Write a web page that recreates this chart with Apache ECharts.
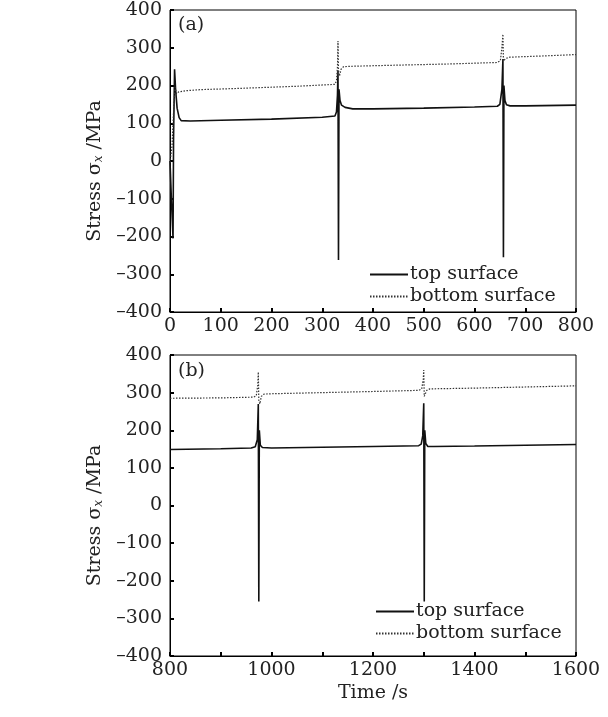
<!DOCTYPE html>
<html>
<head>
<meta charset="utf-8">
<script src="https://cdn.jsdelivr.net/npm/echarts@6/dist/echarts.min.js"></script>
<style>html,body{margin:0;padding:0;background:#fff}#c{width:608px;height:717px}</style>
</head>
<body>
<div id="c"></div>
<script>
// Panel (a): time 0–800 s
const topSurfaceA = [[0,0],[3,-110],[6,-205],[7,60],[9,243],[11,190],[14,140],[18,115],[22,107],[40,106],[100,108],[200,111],[300,116],[325,119],[328,130],[330,175],[331,240],[332,-262],[333,190],[335,160],[338,148],[345,142],[360,138],[400,138],[500,140],[600,143],[645,145],[650,150],[654,190],[656,270],[657,-255],[658,200],[660,160],[663,149],[670,146],[700,146],[800,148]];
const bottomSurfaceA = [[0,-5],[4,40],[7,130],[10,195],[13,178],[17,183],[30,186],[60,189],[150,193],[250,198],[325,203],[328,212],[330,250],[331,318],[332,240],[334,225],[337,243],[342,250],[360,251],[450,254],[550,257],[645,261],[651,266],[654,300],[656,336],[657,265],[659,262],[662,272],[670,275],[750,279],[800,282]];
// Panel (b): time 800–1600 s
const topSurfaceB = [[800,149],[900,151],[960,153],[968,156],[972,175],[974,270],[975,-255],[976,200],[978,160],[982,154],[1000,153],[1100,155],[1200,157],[1290,159],[1295,163],[1298,185],[1300,272],[1301,-255],[1302,200],[1304,165],[1308,157],[1320,157],[1400,158],[1500,160],[1600,162]];
const bottomSurfaceB = [[800,285],[900,286],[965,288],[970,292],[973,320],[974,355],[975,280],[977,270],[980,290],[985,296],[1000,297],[1100,300],[1200,303],[1290,306],[1296,310],[1299,335],[1300,360],[1301,290],[1303,285],[1306,306],[1312,310],[1400,312],[1500,315],[1600,318]];
const seriesNames = ['top surface','bottom surface'];
const panelLabels = ['(a)','(b)'];
const yName = 'Stress σ';
const xName = 'Time /s';

const FONT = 'DejaVu Serif';
const FS = 19;
const chart = echarts.init(document.getElementById('c'));
const fmt = v => String(v).replace('-', '\u2013');
function xAxis(idx, min, max, name) {
  return {
    type: 'value', gridIndex: idx, min: min, max: max, interval: 100,
    name: name || '', nameLocation: 'middle', nameGap: 28,
    nameTextStyle: {fontFamily: FONT, fontSize: FS, color: '#222'},
    axisLine: {onZero: false, lineStyle: {color: '#000', width: 1}},
    axisTick: {inside: true, length: 4, lineStyle: {color: '#000', width: 2}},
    splitLine: {show: false},
    axisLabel: {fontFamily: FONT, fontSize: FS, color: '#222', margin: 5,
      showMinLabel: true, showMaxLabel: true,
      formatter: v => (max > 800 && (v % 200 !== 0)) ? '' : fmt(v)}
  };
}
function yAxis(idx) {
  return {
    type: 'value', gridIndex: idx, min: -400, max: 400, interval: 100,
    name: '{n|' + yName + '}{s|x}{n| /MPa}', nameLocation: 'middle', nameGap: 64, nameRotate: 90,
    nameTextStyle: {padding: [0, 20, 0, 0], rich: {
      n: {fontFamily: FONT, fontSize: FS, color: '#222'},
      s: {fontFamily: FONT, fontSize: 12, fontStyle: 'italic', color: '#222', verticalAlign: 'bottom', padding: [8,0,0,0]}
    }},
    axisLine: {onZero: false, lineStyle: {color: '#000', width: 1}},
    axisTick: {inside: true, length: 4, lineStyle: {color: '#000', width: 2}},
    splitLine: {show: false},
    axisLabel: {fontFamily: FONT, fontSize: FS, color: '#222', margin: 8, formatter: fmt}
  };
}
function line(name, data, idx, dotted) {
  return {
    name: name, type: 'line', xAxisIndex: idx, yAxisIndex: idx, data: data,
    showSymbol: false, symbol: 'none', animation: false,
    itemStyle: {color: '#111'},
    lineStyle: dotted ? {color: '#333', width: 1.2, type: [1.5, 1.5]} : {color: '#111', width: 1.6}
  };
}
const legendCommon = {
  orient: 'vertical', itemWidth: 38, itemHeight: 10, itemGap: 3,
  itemStyle: {opacity: 0},
  textStyle: {fontFamily: FONT, fontSize: FS, color: '#222', padding: [0,0,0,-3]},
  data: seriesNames, selectedMode: false
};
chart.setOption({
  animation: false,
  grid: [
    {left: 170, top: 10, width: 406, height: 302, show: true, borderColor: '#000', borderWidth: 1},
    {left: 170, top: 355, width: 406, height: 301, show: true, borderColor: '#000', borderWidth: 1}
  ],
  xAxis: [xAxis(0, 0, 800), xAxis(1, 800, 1600, xName)],
  yAxis: [yAxis(0), yAxis(1)],
  legend: [
    Object.assign({left: 364, top: 260}, legendCommon),
    Object.assign({left: 370, top: 597}, legendCommon)
  ],
  graphic: [
    {type: 'text', left: 178, top: 16, style: {text: panelLabels[0], font: FS + 'px "DejaVu Serif"', fill: '#222'}},
    {type: 'text', left: 178, top: 362, style: {text: panelLabels[1], font: FS + 'px "DejaVu Serif"', fill: '#222'}}
  ],
  series: [
    line(seriesNames[0], topSurfaceA, 0, false),
    line(seriesNames[1], bottomSurfaceA, 0, true),
    line(seriesNames[0], topSurfaceB, 1, false),
    line(seriesNames[1], bottomSurfaceB, 1, true)
  ]
});
</script>
</body>
</html>
